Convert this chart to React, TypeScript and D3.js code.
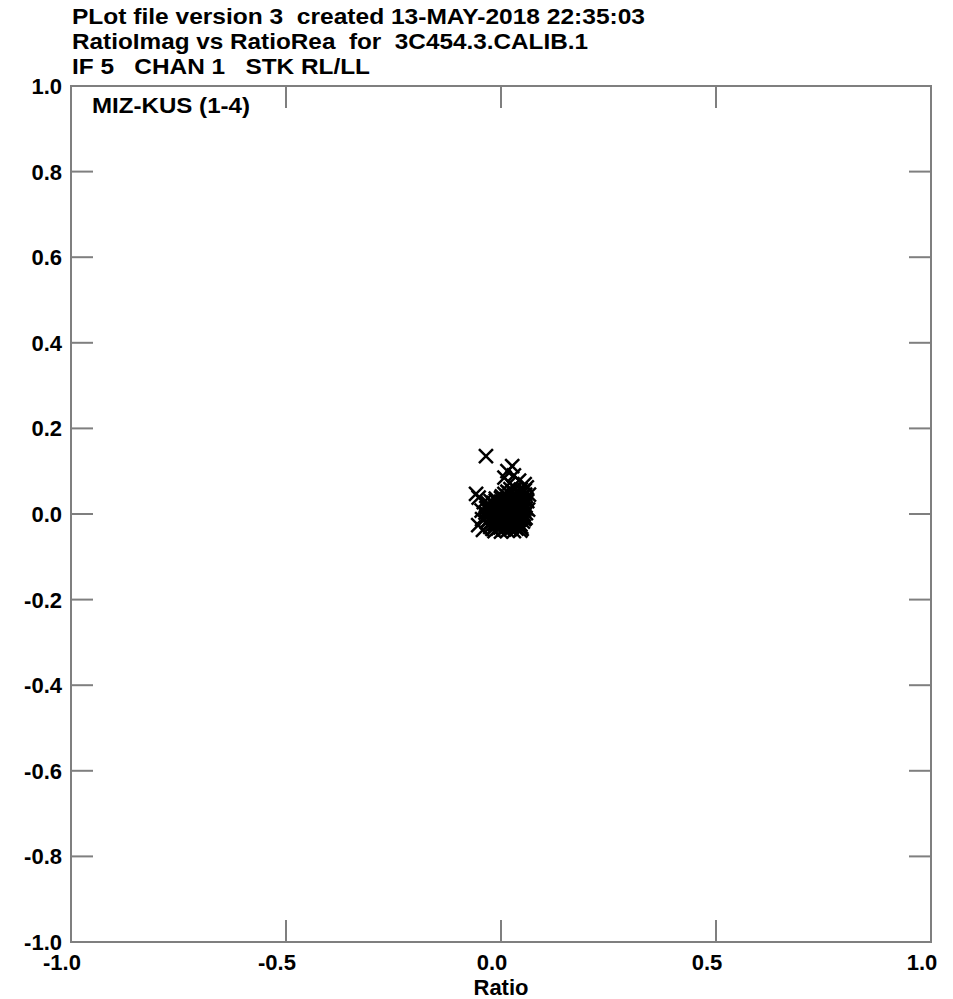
import * as d3 from "d3";
import React from "react";

const WIDTH = 953;
const HEIGHT = 999;

const titleLines = [
  "PLot file version 3  created 13-MAY-2018 22:35:03",
  "RatioImag vs RatioRea  for  3C454.3.CALIB.1",
  "IF 5   CHAN 1   STK RL/LL",
];
const titleWidths = [573, 516, 298];
const panelLabel = "MIZ-KUS (1-4)";
const xLabel = "Ratio";

const xTicks = [-1.0, -0.5, 0.0, 0.5, 1.0];
const yTicks = [1.0, 0.8, 0.6, 0.4, 0.2, 0.0, -0.2, -0.4, -0.6, -0.8, -1.0];

// [RatioRea, RatioImag]
const points: [number, number][] = [
  [-0.035, 0.135], [0.015, 0.1], [0.026, 0.112], [0.03, 0.09], [0.042, 0.078],
  [0.055, 0.07], [0.06, 0.062], [-0.058, 0.047], [-0.052, 0.038], [-0.053, -0.026],
  [-0.042, -0.037], [0.061, 0.03], [0.008, 0.085], [0.02, 0.072],
  [0.022, 0.058], [0.034, 0.06], [0.046, 0.057], [0.055, 0.055],
  [0.008, 0.047], [0.02, 0.048], [0.031, 0.046], [0.043, 0.047], [0.056, 0.045],
  [-0.012, 0.036], [0.0, 0.037], [0.012, 0.035], [0.024, 0.036], [0.036, 0.034], [0.048, 0.036], [0.058, 0.035],
  [-0.03, 0.025], [-0.018, 0.026], [-0.006, 0.024], [0.006, 0.025], [0.018, 0.026], [0.03, 0.024], [0.042, 0.025], [0.054, 0.026],
  [-0.034, 0.014], [-0.022, 0.015], [-0.01, 0.013], [0.002, 0.014], [0.014, 0.015], [0.026, 0.013], [0.038, 0.014], [0.05, 0.015], [0.058, 0.013],
  [-0.036, 0.003], [-0.024, 0.004], [-0.012, 0.002], [0.0, 0.003], [0.012, 0.004], [0.024, 0.002], [0.036, 0.003], [0.048, 0.004], [0.058, 0.002],
  [-0.035, -0.008], [-0.023, -0.007], [-0.011, -0.009], [0.001, -0.008], [0.013, -0.007], [0.025, -0.009], [0.037, -0.008], [0.049, -0.007], [0.057, -0.009],
  [-0.033, -0.019], [-0.021, -0.018], [-0.009, -0.02], [0.003, -0.019], [0.015, -0.018], [0.027, -0.02], [0.039, -0.019], [0.051, -0.018],
  [-0.025, -0.03], [-0.013, -0.029], [-0.001, -0.031], [0.011, -0.03], [0.023, -0.029], [0.035, -0.031], [0.047, -0.03],
  [-0.015, -0.04], [0.0, -0.041], [0.015, -0.039], [0.03, -0.04], [0.045, -0.039],
  [-0.045, 0.008], [-0.044, -0.012], [-0.04, 0.028], [0.065, 0.045], [0.063, 0.01],
  [0.015, 0.052], [0.028, 0.053], [0.04, 0.051], [0.051, 0.052],
  [0.002, 0.041], [0.014, 0.042], [0.026, 0.04], [0.037, 0.041], [0.05, 0.042],
  [-0.024, 0.03], [-0.012, 0.031], [0.0, 0.029], [0.012, 0.03], [0.024, 0.031], [0.036, 0.029], [0.048, 0.03],
  [-0.028, 0.019], [-0.016, 0.02], [-0.004, 0.018], [0.008, 0.019], [0.02, 0.02], [0.032, 0.018], [0.044, 0.019], [0.055, 0.02],
  [-0.03, 0.008], [-0.018, 0.009], [-0.006, 0.007], [0.006, 0.008], [0.018, 0.009], [0.03, 0.007], [0.042, 0.008], [0.053, 0.009],
  [-0.03, -0.002], [-0.018, -0.001], [-0.006, -0.003], [0.006, -0.002], [0.018, -0.001], [0.03, -0.003], [0.042, -0.002], [0.053, -0.001],
  [-0.029, -0.013], [-0.017, -0.012], [-0.005, -0.014], [0.007, -0.013], [0.019, -0.012], [0.031, -0.014], [0.043, -0.013], [0.054, -0.012],
  [-0.027, -0.024], [-0.015, -0.023], [-0.003, -0.025], [0.009, -0.024], [0.021, -0.023], [0.033, -0.025], [0.045, -0.024],
  [-0.02, -0.035], [-0.007, -0.034], [0.007, -0.036], [0.021, -0.035], [0.036, -0.034], [0.048, -0.035],
];

const X0 = 71;
const X1 = 931;
const Y0 = 86;
const Y1 = 942;
const TICK = 22;
const AXIS = "#7f7f7f";
const FONT = "'Liberation Sans', Arial, Helvetica, sans-serif";

// plain hyphen for negatives, like the original plot
const fmt = (v: number) => d3.format(".1f")(v).replace("\u2212", "-");

export default function App() {
  const x = d3.scaleLinear().domain([-1, 1]).range([X0, X1]);
  const y = d3.scaleLinear().domain([-1, 1]).range([Y1, Y0]);
  const m = 7;

  return (
    <svg
      width={WIDTH}
      height={HEIGHT}
      style={{ position: "absolute", left: 0, top: 0, background: "#fff" }}
      fontFamily={FONT}
    >
      {titleLines.map((t, i) => (
        <text
          key={t}
          x={72}
          y={24 + i * 25}
          fontSize={22}
          fontWeight="bold"
          textLength={titleWidths[i]}
          lengthAdjust="spacingAndGlyphs"
          style={{ whiteSpace: "pre" }}
        >
          {t}
        </text>
      ))}

      <g stroke={AXIS} strokeWidth={2} fill="none">
        <rect x={X0} y={Y0} width={X1 - X0} height={Y1 - Y0} />
        {xTicks.map((v) => (
          <g key={"xt" + v}>
            <line x1={x(v)} x2={x(v)} y1={Y1} y2={Y1 - TICK} />
            <line x1={x(v)} x2={x(v)} y1={Y0} y2={Y0 + TICK} />
          </g>
        ))}
        {yTicks.map((v) => (
          <g key={"yt" + v}>
            <line x1={X0} x2={X0 + TICK} y1={y(v)} y2={y(v)} />
            <line x1={X1} x2={X1 - TICK} y1={y(v)} y2={y(v)} />
          </g>
        ))}
      </g>

      <g fontSize={22} fontWeight="bold">
        {yTicks.map((v) => (
          <text key={"yl" + v} x={62} y={y(v) + 8} textAnchor="end">
            {fmt(v)}
          </text>
        ))}
        {xTicks.map((v) => (
          <text key={"xl" + v} x={x(v) - 9} y={970} textAnchor="middle">
            {fmt(v)}
          </text>
        ))}
        <text x={x(0)} y={995} textAnchor="middle">
          {xLabel}
        </text>
        <text x={92} y={113} textLength={158} lengthAdjust="spacingAndGlyphs">
          {panelLabel}
        </text>
      </g>

      <g stroke="#000" strokeWidth={2.5}>
        {points.map(([px, py], i) => {
          const cx = x(px);
          const cy = y(py);
          return (
            <path
              key={i}
              d={`M${cx - m},${cy - m}L${cx + m},${cy + m}M${cx - m},${cy + m}L${cx + m},${cy - m}`}
            />
          );
        })}
      </g>
    </svg>
  );
}
